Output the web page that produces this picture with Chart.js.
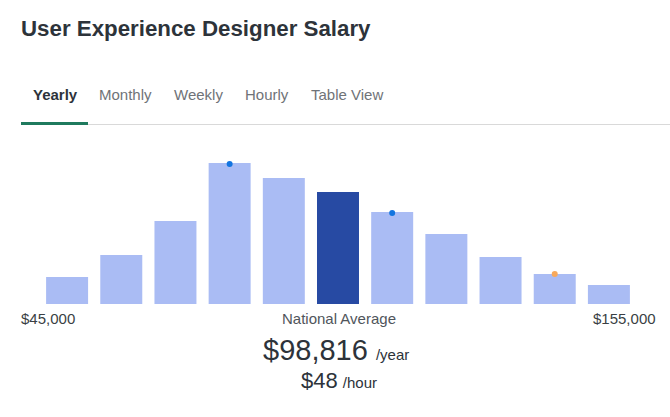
<!DOCTYPE html>
<html><head><meta charset="utf-8">
<script src="https://cdn.jsdelivr.net/npm/chart.js@4"></script>
<style>
html,body{margin:0;padding:0;background:#fff;width:670px;height:417px;overflow:hidden;font-family:"Liberation Sans",Arial,sans-serif;}
.abs{position:absolute;white-space:nowrap;line-height:1;}
#title{left:21px;top:17.5px;font-size:22.3px;font-weight:bold;color:#2d333a;}
.tab{top:86.5px;font-size:15px;color:#6f7378;}
#uline{left:21px;top:122px;width:67px;height:3px;background:#1f7a5e;}
#gline{left:88px;top:124px;width:582px;height:1px;background:#d9d9d9;}
#wrap{left:40px;top:150px;width:596px;height:154px;}
.lbl{top:310.5px;font-size:15px;color:#3a3f44;}
</style></head><body>
<div id="title" class="abs">User Experience Designer Salary</div>
<div class="abs tab" style="left:33px;font-weight:bold;color:#2d333a;">Yearly</div>
<div class="abs tab" style="left:99px;">Monthly</div>
<div class="abs tab" style="left:174px;">Weekly</div>
<div class="abs tab" style="left:245px;">Hourly</div>
<div class="abs tab" style="left:311px;">Table View</div>
<div id="uline" class="abs"></div>
<div id="gline" class="abs"></div>
<div id="wrap" class="abs"><canvas id="c"></canvas></div>
<div class="abs lbl" style="left:21px;">$45,000</div>
<div class="abs lbl" style="left:282px;color:#50555b;">National Average</div>
<div class="abs lbl" style="left:593px;">$155,000</div>
<div class="abs" style="left:263px;top:335.5px;font-size:29px;color:#2d333a;">$98,816 <span style="font-size:15px;">/year</span></div>
<div class="abs" style="left:301px;top:369.5px;font-size:22px;color:#2d333a;">$48 <span style="font-size:15px;margin-left:-1px;">/hour</span></div>
<script>
const categories = ["b1","b2","b3","b4","b5","b6","b7","b8","b9","b10","b11"];
const barValues = [27,49,83,141,126,112,92,70,47,30,19];
const barColors = ["#aabcf4","#aabcf4","#aabcf4","#aabcf4","#aabcf4","#274aa3","#aabcf4","#aabcf4","#aabcf4","#aabcf4","#aabcf4"];
const markerValues = [null,null,null,140,null,null,91,null,null,30,null];
const markerColors = ["#1375e0","#1375e0","#1375e0","#1375e0","#1375e0","#1375e0","#1375e0","#1375e0","#1375e0","#f8a95b","#1375e0"];
new Chart(document.getElementById('c'), {
  data: {
    labels: categories,
    datasets: [
      {type:'line', data: markerValues, showLine:false, pointRadius:3, pointBorderWidth:0, pointHoverRadius:3,
       pointBackgroundColor: markerColors, pointBorderColor: markerColors, clip:false, order:0},
      {type:'bar', data: barValues, backgroundColor: barColors, barPercentage:0.775, categoryPercentage:1, order:1}
    ]
  },
  options: {
    responsive:true, maintainAspectRatio:false, animation:false,
    layout:{padding:0, autoPadding:false},
    plugins:{legend:{display:false}, tooltip:{enabled:false}},
    scales:{
      x:{display:false},
      y:{display:false, min:0, max:154}
    }
  }
});
</script>
</body></html>
